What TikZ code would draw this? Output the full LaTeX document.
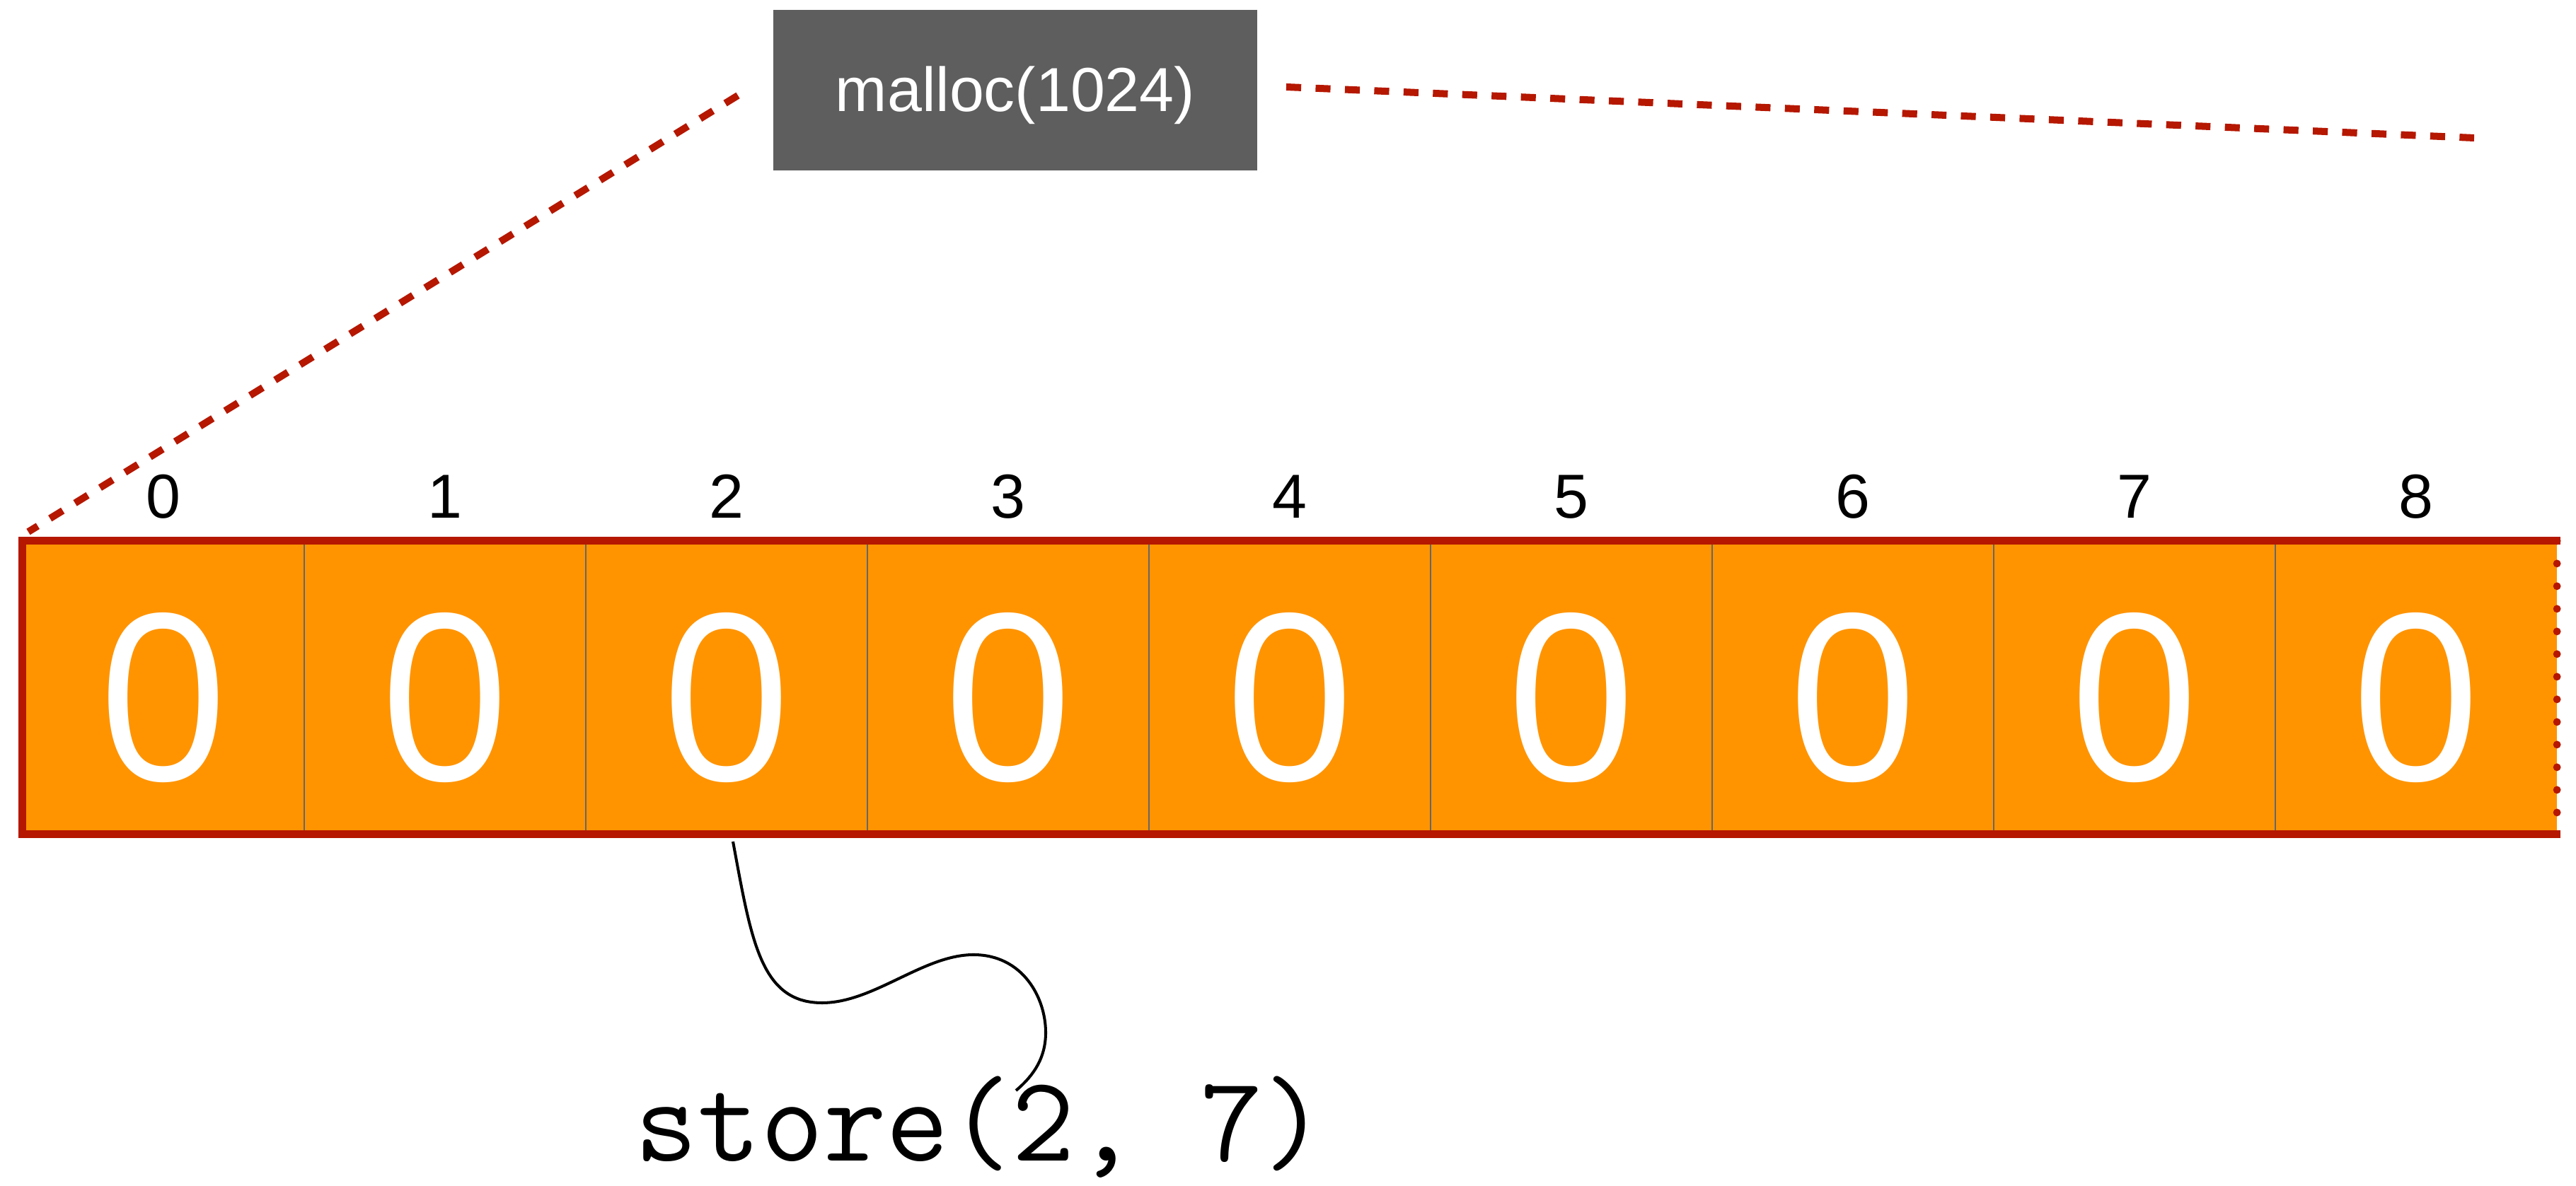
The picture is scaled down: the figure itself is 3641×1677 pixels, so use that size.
\documentclass[tikz,border=0pt]{standalone}
\usepackage{fontspec}
\setmainfont{Liberation Sans}
\newfontfamily\zerofont{Open Sans}
\usetikzlibrary{calc}
\definecolor{boxgray}{HTML}{5E5E5E}
\definecolor{cellorange}{HTML}{FF9400}
\definecolor{memred}{HTML}{B51700}
\definecolor{divgray}{HTML}{666666}
\tikzset{
  cellbox/.style={fill=cellorange, draw=none, minimum width=3.98cm, minimum height=4.14cm, inner sep=0pt, outer sep=0pt},
  zerotext/.style={text=white, font=\zerofont\fontsize{93}{93}\selectfont, inner sep=0pt, anchor=base},
  idxtext/.style={text=black, font=\fontsize{25}{25}\selectfont, inner sep=0pt, anchor=base},
  divider/.style={draw=divgray, line width=0.7pt},
  border/.style={draw=memred, line width=3.13pt, line join=miter},
  dotborder/.style={draw=memred, line width=3.1pt, line cap=round, dash pattern=on 0pt off 9.1pt},
  reddash/.style={draw=memred, line width=2.85pt, dash pattern=on 6pt off 5.8pt},
  grayblock/.style={fill=boxgray, draw=none, minimum width=6.84cm, minimum height=2.27cm, inner sep=0pt},
  boxtext/.style={text=white, font=\fontsize{25}{25}\selectfont, inner sep=0pt, anchor=base},
  codetext/.style={text=black, font=\ttfamily\fontsize{49}{49}\selectfont, inner sep=0pt, anchor=base},
  squiggle/.style={draw=black, line width=1.15pt}
}
\begin{document}
\begin{tikzpicture}[x=0.01cm, y=-0.01cm]
\useasboundingbox (0,0) rectangle (3641,1677);
% cells
\foreach \i in {0,...,8} {
  \node[cellbox] (c\i) at (231+398*\i, 972) {};
}
\foreach \i in {0,...,7} {
  \draw[divider] (c\i.north east) -- (c\i.south east);
}
\foreach \i in {0,...,8} {
  \node[zerotext] (z\i) at (231+398*\i, 1104) {0};
  \node[idxtext] (i\i) at (231+398*\i, 733) {\i};
}
% border
\draw[border] ($(c8.north east)+(5,0)$) -- (c0.north west) -- (c0.south west) -- ($(c8.south east)+(5,0)$);
\draw[dotborder] (c8.north east) -- (c8.south east);
% malloc box
\node[grayblock] (m) at (1435,127.5) {};
\node[boxtext] (mt) at (1435,158) {malloc(1024)};
% dashed lines
\coordinate (ml) at (1043,135);
\coordinate (al) at (40,752);
\coordinate (mr) at (1818,123);
\coordinate (ar) at (3497,195);
\draw[reddash] (ml) -- (al);
\draw[reddash] (mr) -- (ar);
% store call
\node[codetext] (st) at (1386,1642) {store(2, 7)};
\coordinate (cs) at (1036,1190);
\coordinate (ce) at (1436,1542);
\draw[squiggle] (cs) .. controls (1062,1330) and (1075,1418) .. (1162,1418)
  .. controls (1235,1418) and (1305,1350) .. (1376,1350)
  .. controls (1445,1350) and (1478,1410) .. (1478,1460)
  .. controls (1478,1495) and (1462,1520) .. (ce);
\end{tikzpicture}
\end{document}
